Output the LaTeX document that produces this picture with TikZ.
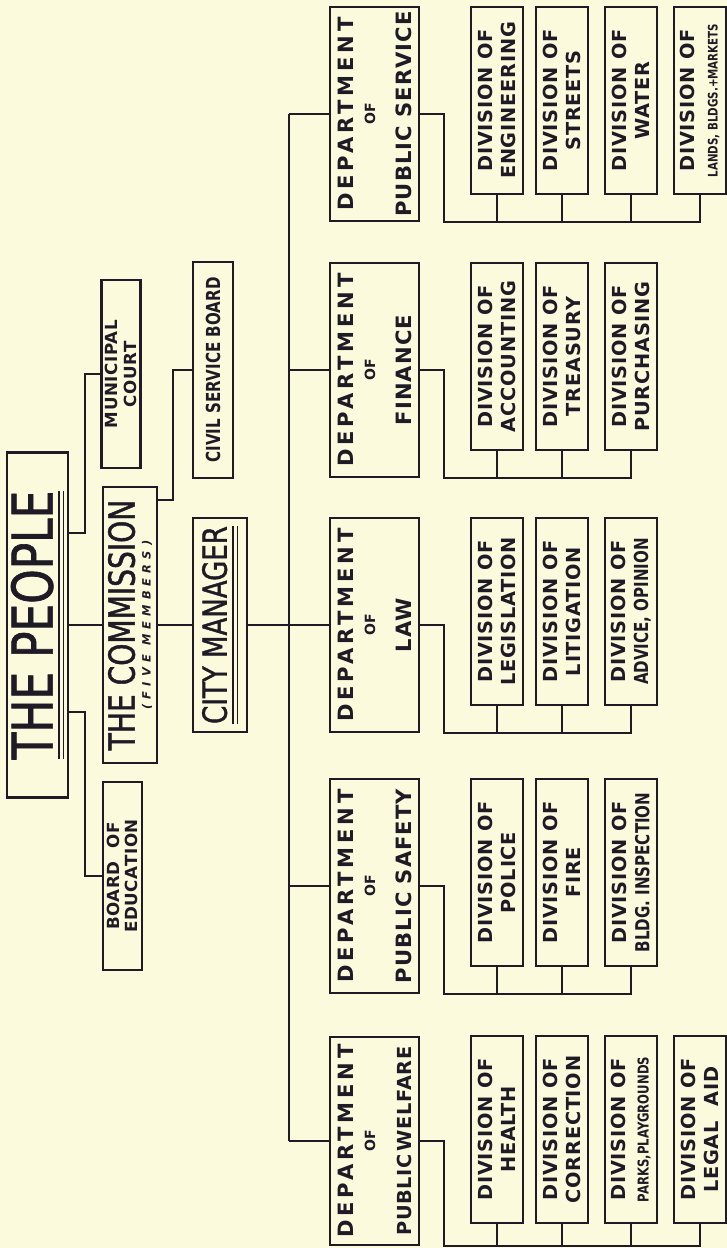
\documentclass[tikz,border=0pt]{standalone}
\usepackage{fontspec}
\setmainfont{DejaVu Sans}
\newfontfamily\thinfont{DejaVu Sans}[FakeStretch=0.78, FakeBold=1.2]
\newfontfamily\deptfont{DejaVu Sans}[LetterSpace=5]
\newfontfamily\divfont{DejaVu Sans}[LetterSpace=4]
\newfontfamily\narrowfont{DejaVu Sans}[FakeStretch=0.78]
\newfontfamily\spacedfont{DejaVu Sans}[LetterSpace=45]
\usetikzlibrary{positioning,calc}

\definecolor{paper}{HTML}{FBFADC}
\definecolor{ink}{HTML}{1F1B26}

% double rule under a heading
\newcommand{\dblunder}[1]{\vtop{\hbox{#1}\kern2.5pt\hrule height 1.3pt\kern1.6pt\hrule height 0.7pt}}
\newcommand{\smallof}{{\fontsize{8}{8}\selectfont\addfontfeature{LetterSpace=0}OF}}
\newcommand{\deptword}{{\addfontfeature{LetterSpace=18}DEPARTMENT}}

\tikzset{
  box/.style={draw=ink, line width=1.2pt, rotate=90, align=center,
    inner sep=0pt, text=ink},
  deptbox/.style={box, minimum width=4.28cm, minimum height=1.78cm,
    font=\deptfont\bfseries\fontsize{12}{12.5}\selectfont},
  divbox/.style={box, minimum width=3.74cm, minimum height=1.04cm,
    font=\divfont\bfseries\fontsize{11}{13}\selectfont},
  boardbox/.style={box, minimum width=3.76cm, minimum height=0.78cm,
    font=\divfont\bfseries\fontsize{9.5}{10.5}\selectfont},
  link/.style={draw=ink, line width=1.2pt},
}

\begin{document}
\begin{tikzpicture}[x=0.02cm, y=-0.02cm]
  \fill[paper] (0,0) rectangle (727,1248);
  \useasboundingbox (0,0) rectangle (727,1248);

  % top of the chart
  \node[box, minimum width=6.9cm, minimum height=1.22cm,
    font=\thinfont\fontsize{32}{32}\selectfont] (people) at (37.5,625)
    {\dblunder{THE PEOPLE}};
  \node[box, minimum width=5.52cm, minimum height=1.08cm,
    font=\thinfont\fontsize{20.5}{9}\selectfont] (com) at (130,625)
    {THE COMMISSION\\{\spacedfont\bfseries\itshape\fontsize{6.5}{7}\selectfont (FIVE MEMBERS)}};
  \node[box, minimum width=4.28cm, minimum height=1.08cm,
    font=\thinfont\fontsize{19}{19}\selectfont] (cm) at (220,625)
    {\dblunder{CITY MANAGER}};
  \node[boardbox] (court) at (121,374) {MUNICIPAL\\COURT};
  \node[boardbox] (board) at (122.5,876) {BOARD~~OF\\EDUCATION};
  \node[box, minimum width=4.32cm, minimum height=0.8cm,
    font=\narrowfont\bfseries\fontsize{11}{12}\selectfont] (civil) at (213,370)
    {CIVIL SERVICE BOARD};

  % departments
  \node[deptbox] (dsv) at (374.5,114) {\deptword\\\smallof\\[8pt]PUBLIC SERVICE};
  \node[deptbox] (dfn) at (374.5,370) {\deptword\\\smallof\\[8pt]FINANCE};
  \node[deptbox] (dlw) at (374.5,625) {\deptword\\\smallof\\[8pt]LAW};
  \node[deptbox] (dsf) at (374.5,886) {\deptword\\\smallof\\[8pt]PUBLIC SAFETY};
  \node[deptbox, minimum width=4.16cm] (dwf) at (374.5,1141)
    {\deptword\\\smallof\\[8pt]{\fontsize{11}{12}\selectfont\addfontfeature{LetterSpace=3}PUBLIC\,WELFARE}};

  % divisions
  \node[divbox] (sv1) at (497,100.5) {DIVISION OF\\ENGINEERING};
  \node[divbox] (sv2) at (562,100.5) {DIVISION OF\\STREETS};
  \node[divbox] (sv3) at (631,100.5) {DIVISION OF\\WATER};
  \node[divbox] (sv4) at (700,100.5)
    {DIVISION OF\\{\narrowfont\bfseries\fontsize{7.5}{9}\selectfont LANDS, BLDGS.+MARKETS}};
  \node[divbox] (fn1) at (497,356.5) {DIVISION OF\\ACCOUNTING};
  \node[divbox] (fn2) at (562,356.5) {DIVISION OF\\TREASURY};
  \node[divbox] (fn3) at (631,356.5) {DIVISION OF\\PURCHASING};
  \node[divbox] (lw1) at (497,611.5) {DIVISION OF\\LEGISLATION};
  \node[divbox] (lw2) at (562,611.5) {DIVISION OF\\LITIGATION};
  \node[divbox] (lw3) at (631,611.5)
    {DIVISION OF\\{\narrowfont\bfseries ADVICE, OPINION}};
  \node[divbox] (sf1) at (497,872.5) {DIVISION OF\\POLICE};
  \node[divbox] (sf2) at (562,872.5) {DIVISION OF\\FIRE};
  \node[divbox] (sf3) at (631,872.5)
    {DIVISION OF\\{\narrowfont\bfseries BLDG.\ INSPECTION}};
  \node[divbox] (wf1) at (497,1129.5) {DIVISION OF\\HEALTH};
  \node[divbox] (wf2) at (562,1129.5) {DIVISION OF\\CORRECTION};
  \node[divbox] (wf3) at (631,1129.5)
    {DIVISION OF\\{\narrowfont\bfseries\fontsize{8.5}{9}\selectfont PARKS,PLAYGROUNDS}};
  \node[divbox] (wf4) at (700,1129.5) {DIVISION OF\\LEGAL~~AID};

  % connectors
  \coordinate (pc) at (85,533);
  \coordinate (pb) at (85,712);
  \coordinate (cc) at (173,500);
  \coordinate (trunk) at (289,0);
  \coordinate (bx) at (444,0);
  \draw[link] (people) -- (com);
  \draw[link] (com) -- (cm);
  \draw[link] (cm) -- (dlw);
  \draw[link] (people.south |- pc) -- (pc) |- (court);
  \draw[link] (people.south |- pb) -- (pb) |- (board);
  \draw[link] (com.south |- cc) -- (cc) |- (civil);
  \draw[link] (dsv.north -| trunk) -- (dwf.north -| trunk);
  \foreach \d/\n in {sv/4, fn/3, lw/3, sf/3, wf/4}{
    \draw[link] (d\d.north) -- (d\d.north -| trunk);
    \draw[link] (d\d.south) -| (bx |- d\d.west) -| (\d\n.west);
    \foreach \i in {1,...,\n}
      \draw[link] (\d\i.west) -- (\d\i.west |- d\d.west);
  }
\end{tikzpicture}
\end{document}
